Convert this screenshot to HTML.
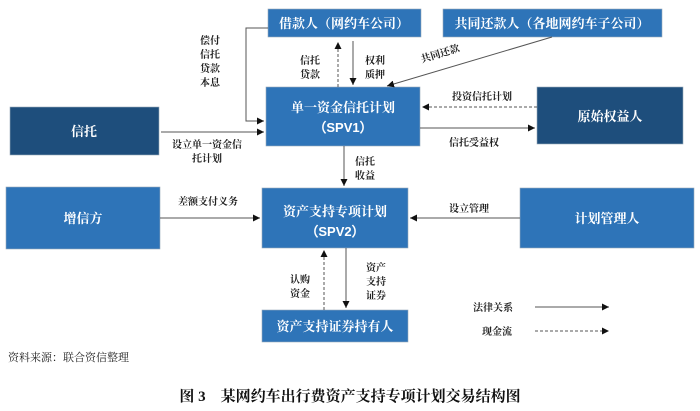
<!DOCTYPE html>
<html><head><meta charset="utf-8"><style>
html,body{margin:0;padding:0;background:#fff;}
svg{display:block;font-family:"Liberation Serif","Noto Serif CJK SC","Noto Sans CJK SC",serif;}
</style></head><body>
<svg width="700" height="411" viewBox="0 0 700 411" xmlns="http://www.w3.org/2000/svg">
<defs>
<marker id="a" markerWidth="8" markerHeight="8" refX="7" refY="4" orient="auto" markerUnits="userSpaceOnUse">
<path d="M0,0.5 L7,4 L0,7.5 z" fill="#111"/></marker>
</defs>
<g stroke="#9ab" stroke-width="0.6">
<rect x="268" y="9" width="153" height="28" fill="#2e74b8"/>
<rect x="443" y="9" width="219" height="28" fill="#2e74b8"/>
<rect x="10" y="107" width="149" height="48" fill="#1e4e7c"/>
<rect x="266" y="87" width="154" height="59" fill="#2e74b8"/>
<rect x="537" y="87" width="146" height="57" fill="#1e4e7c"/>
<rect x="6" y="187" width="154" height="62" fill="#2e74b8"/>
<rect x="262" y="188" width="146" height="60" fill="#2e74b8"/>
<rect x="520" y="188" width="174" height="60" fill="#2e74b8"/>
<rect x="262" y="310" width="146" height="32" fill="#2e74b8"/>
</g>
<g fill="#fff" font-size="13" text-anchor="middle" font-weight="bold">
<text x="344" y="28">借款人（网约车公司）</text>
<text x="552" y="28">共同还款人（各地网约车子公司）</text>
<text x="84" y="136">信托</text>
<text x="343" y="112">单一资金信托计划</text>
<text x="343" y="132" font-family="Liberation Sans,sans-serif">（SPV1）</text>
<text x="610" y="121">原始权益人</text>
<text x="83" y="223">增信方</text>
<text x="335" y="216">资产支持专项计划</text>
<text x="335" y="236" font-family="Liberation Sans,sans-serif">（SPV2）</text>
<text x="607" y="223">计划管理人</text>
<text x="335" y="331">资产支持证券持有人</text>
</g>
<g stroke="#555" stroke-width="1" fill="none">
<path d="M268,28 H246 V121 H264" marker-end="url(#a)"/>
<path d="M353,41 V85" marker-end="url(#a)"/>
<path d="M552,37 L387,86" marker-end="url(#a)"/>
<path d="M161,132 H264" marker-end="url(#a)"/>
<path d="M420,128 H535" marker-end="url(#a)"/>
<path d="M344,146 V186" marker-end="url(#a)"/>
<path d="M160,218 H260" marker-end="url(#a)"/>
<path d="M520,218 H410" marker-end="url(#a)"/>
<path d="M346,248 V308" marker-end="url(#a)"/>
<path d="M535,307 H609" marker-end="url(#a)"/>
<g stroke-dasharray="3,2">
<path d="M338,87 V42" marker-end="url(#a)"/>
<path d="M537,107 H422" marker-end="url(#a)"/>
<path d="M324,310 V250" marker-end="url(#a)"/>
<path d="M535,331 H609" marker-end="url(#a)"/>
</g>
</g>
<g fill="#222" font-size="10" text-anchor="middle" font-weight="bold">
<text x="210" y="44">偿付</text><text x="210" y="58">信托</text><text x="210" y="72">贷款</text><text x="210" y="86">本息</text>
<text x="310" y="64">信托</text><text x="310" y="78">贷款</text>
<text x="375" y="64">权利</text><text x="375" y="78">质押</text>
<text x="440" y="57" transform="rotate(-17 440 53)">共同还款</text>
<text x="482" y="100">投资信托计划</text>
<text x="474" y="146">信托受益权</text>
<text x="207" y="148">设立单一资金信</text>
<text x="207" y="162">托计划</text>
<text x="365" y="165">信托</text><text x="365" y="179">收益</text>
<text x="208" y="205">差额支付义务</text>
<text x="469" y="212">设立管理</text>
<text x="300" y="283">认购</text><text x="300" y="297">资金</text>
<text x="376" y="271">资产</text><text x="376" y="285">支持</text><text x="376" y="299">证券</text>
<text x="493" y="311">法律关系</text>
<text x="497" y="335">现金流</text>
</g>
<text x="8" y="361" font-size="11" fill="#222">资料来源：联合资信整理</text>
<text x="350" y="401" font-size="15" font-weight="bold" text-anchor="middle" fill="#111">图 3　某网约车出行费资产支持专项计划交易结构图</text>
</svg>
</body></html>
